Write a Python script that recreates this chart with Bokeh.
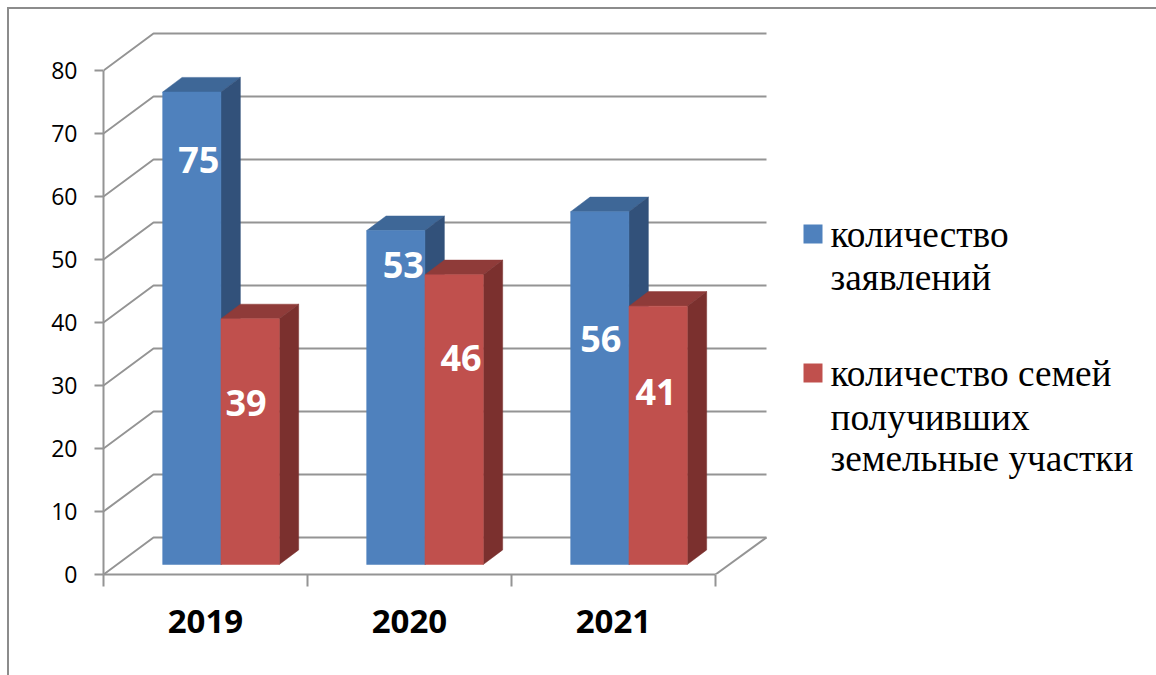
from bokeh.plotting import figure
from bokeh.models import Range1d, LinearAxis, FixedTicker
from bokeh.core.properties import value
from bokeh.embed import file_html
from bokeh.resources import INLINE

# ---- data ----
years = ["2019", "2020", "2021"]
applications = [75, 53, 56]
families = [39, 46, 41]
value_ticks = [0, 10, 20, 30, 40, 50, 60, 70, 80]
legend_first = ["количество", "заявлений"]
legend_second = ["количество семей", "получивших", "земельные участки"]

# ---- layout ----
W, H = 1156, 675
LEFT, BOTTOM_PX = 103, 574           # frame origin inside the figure
PX_X, PX_Y = 204.0, 6.3              # pixels per category / per value unit
GRAY = "#949494"
BORDER = "#8c8c8c"
BLUE, BLUE_TOP, BLUE_SIDE = "#4f81bd", "#3e6797", "#32517a"
RED, RED_TOP, RED_SIDE = "#c0504d", "#8f3b39", "#7b302e"

dx = lambda px: px / PX_X
dy = lambda px: px / PX_Y
# picture pixel -> data
to_x = lambda sx: (sx - LEFT) / PX_X
to_y = lambda sy: (BOTTOM_PX - sy) / PX_Y

p = figure(width=W, height=H, output_backend="svg", toolbar_location=None,
           x_range=Range1d(0, (W - LEFT) / PX_X), y_range=Range1d(0, BOTTOM_PX / PX_Y),
           x_axis_type=None, y_axis_type=None,
           min_border_left=LEFT, min_border_right=0, min_border_top=0,
           min_border_bottom=H - BOTTOM_PX, background_fill_color=None,
           border_fill_color=None, outline_line_color=None)
p.grid.visible = False
# chart-area border: only its top and left edges are visible in the picture
p.styles = {"background":
            f"linear-gradient({BORDER},{BORDER}) 6.5px 6.5px / {W}px 2px no-repeat,"
            f"linear-gradient({BORDER},{BORDER}) 6.5px 6.5px / 2px {H}px no-repeat, white"}

# ---- walls ----
WALL_DX, WALL_DY = dx(50), dy(37)
WALL_END = 3 + dx(51)
xs, ys = [], []
for v in value_ticks:
    xs.append([0, WALL_DX, WALL_END])
    ys.append([v, v + WALL_DY, v + WALL_DY])
p.multi_line(xs, ys, line_color=GRAY, line_width=2)
p.line([WALL_END, 3], [WALL_DY, 0], line_color=GRAY, line_width=2)

# ---- bars ----
BAR_W = dx(58.3)
FIRST = 0.29
BASE = dy(10)
DEPTH_X, DEPTH_Y = dx(19.4), dy(14.6)

def bars(vals, shift, front, top, side):
    lefts = [i + shift for i in range(len(vals))]
    rights = [l + BAR_W for l in lefts]
    p.patches([[l, r, r + DEPTH_X, l + DEPTH_X] for l, r in zip(lefts, rights)],
              [[t + BASE, t + BASE, t + BASE + DEPTH_Y, t + BASE + DEPTH_Y] for t in vals],
              fill_color=top, line_color=top, line_width=0.5)
    p.patches([[r, r + DEPTH_X, r + DEPTH_X, r] for r in rights],
              [[BASE, BASE + DEPTH_Y, t + BASE + DEPTH_Y, t + BASE] for t in vals],
              fill_color=side, line_color=side, line_width=0.5)
    p.quad(left=lefts, right=rights, bottom=[BASE] * len(vals),
           top=[t + BASE for t in vals], fill_color=front, line_color=front, line_width=0.5)
    return lefts

blue_lefts = bars(applications, FIRST, BLUE, BLUE_TOP, BLUE_SIDE)
red_lefts = bars(families, FIRST + BAR_W, RED, RED_TOP, RED_SIDE)

# ---- value labels ----
lab_x = [l + BAR_W / 2 for l in blue_lefts] + [l + BAR_W / 2 for l in red_lefts]
lab_y = [v + BASE for v in applications] + [v + BASE for v in families]
lab_t = [str(v) for v in applications] + [str(v) for v in families]
lab_dx = [7, 7.5, 1, -4, 7, -2]
lab_dy = [68, 34, 127, 84, 83, 86]
p.text(lab_x, lab_y, text=lab_t, x_offset=lab_dx, y_offset=lab_dy,
       text_align="center", text_baseline="middle", text_color="white",
       text_font=value("Open Sans"), text_font_size="36px", text_font_style="bold")

# ---- axes ----
yax = LinearAxis(ticker=FixedTicker(ticks=value_ticks), bounds=(0, 80))
yax.axis_line_color = GRAY
yax.axis_line_width = 2
yax.major_tick_line_color = GRAY
yax.major_tick_line_width = 2
yax.major_tick_in = 0
yax.major_tick_out = 9
yax.minor_tick_line_color = None
yax.major_label_standoff = 17
yax.major_label_text_font = "Open Sans"
yax.major_label_text_font_size = "23px"
yax.major_label_text_color = "#000000"
p.add_layout(yax, "left")

xax = LinearAxis(ticker=FixedTicker(ticks=[i + 0.5 for i in range(len(years))],
                                    minor_ticks=list(range(len(years) + 1))),
                 bounds=(0, len(years)))
xax.major_label_overrides = {i + 0.5: y for i, y in enumerate(years)}
xax.axis_line_color = GRAY
xax.axis_line_width = 2
xax.major_tick_line_color = None
xax.major_tick_in = 0
xax.major_tick_out = 0
xax.minor_tick_line_color = GRAY
xax.minor_tick_line_width = 2
xax.minor_tick_in = 0
xax.minor_tick_out = 12
xax.major_label_standoff = 23
xax.major_label_text_font = "Open Sans"
xax.major_label_text_font_style = "bold"
xax.major_label_text_font_size = "33px"
xax.major_label_text_color = "#000000"
p.add_layout(xax, "below")

# ---- legend ----
KEY = 19
for top_px, color in ((224, BLUE), (363, RED)):
    p.quad(left=[to_x(803)], right=[to_x(803 + KEY)], top=[to_y(top_px)],
           bottom=[to_y(top_px + KEY)], fill_color=color, line_color=None)
for lines, baselines in ((legend_first, (234, 277)), (legend_second, (373, 417, 458))):
    for line, base in zip(lines, baselines):
        p.text([to_x(830)], [to_y(base)], text=[line], text_align="left",
               text_baseline="alphabetic", text_color="black",
               text_font=value("Liberation Serif"), text_font_size="37.3px")

open("out.html", "w").write(file_html(p, INLINE))
